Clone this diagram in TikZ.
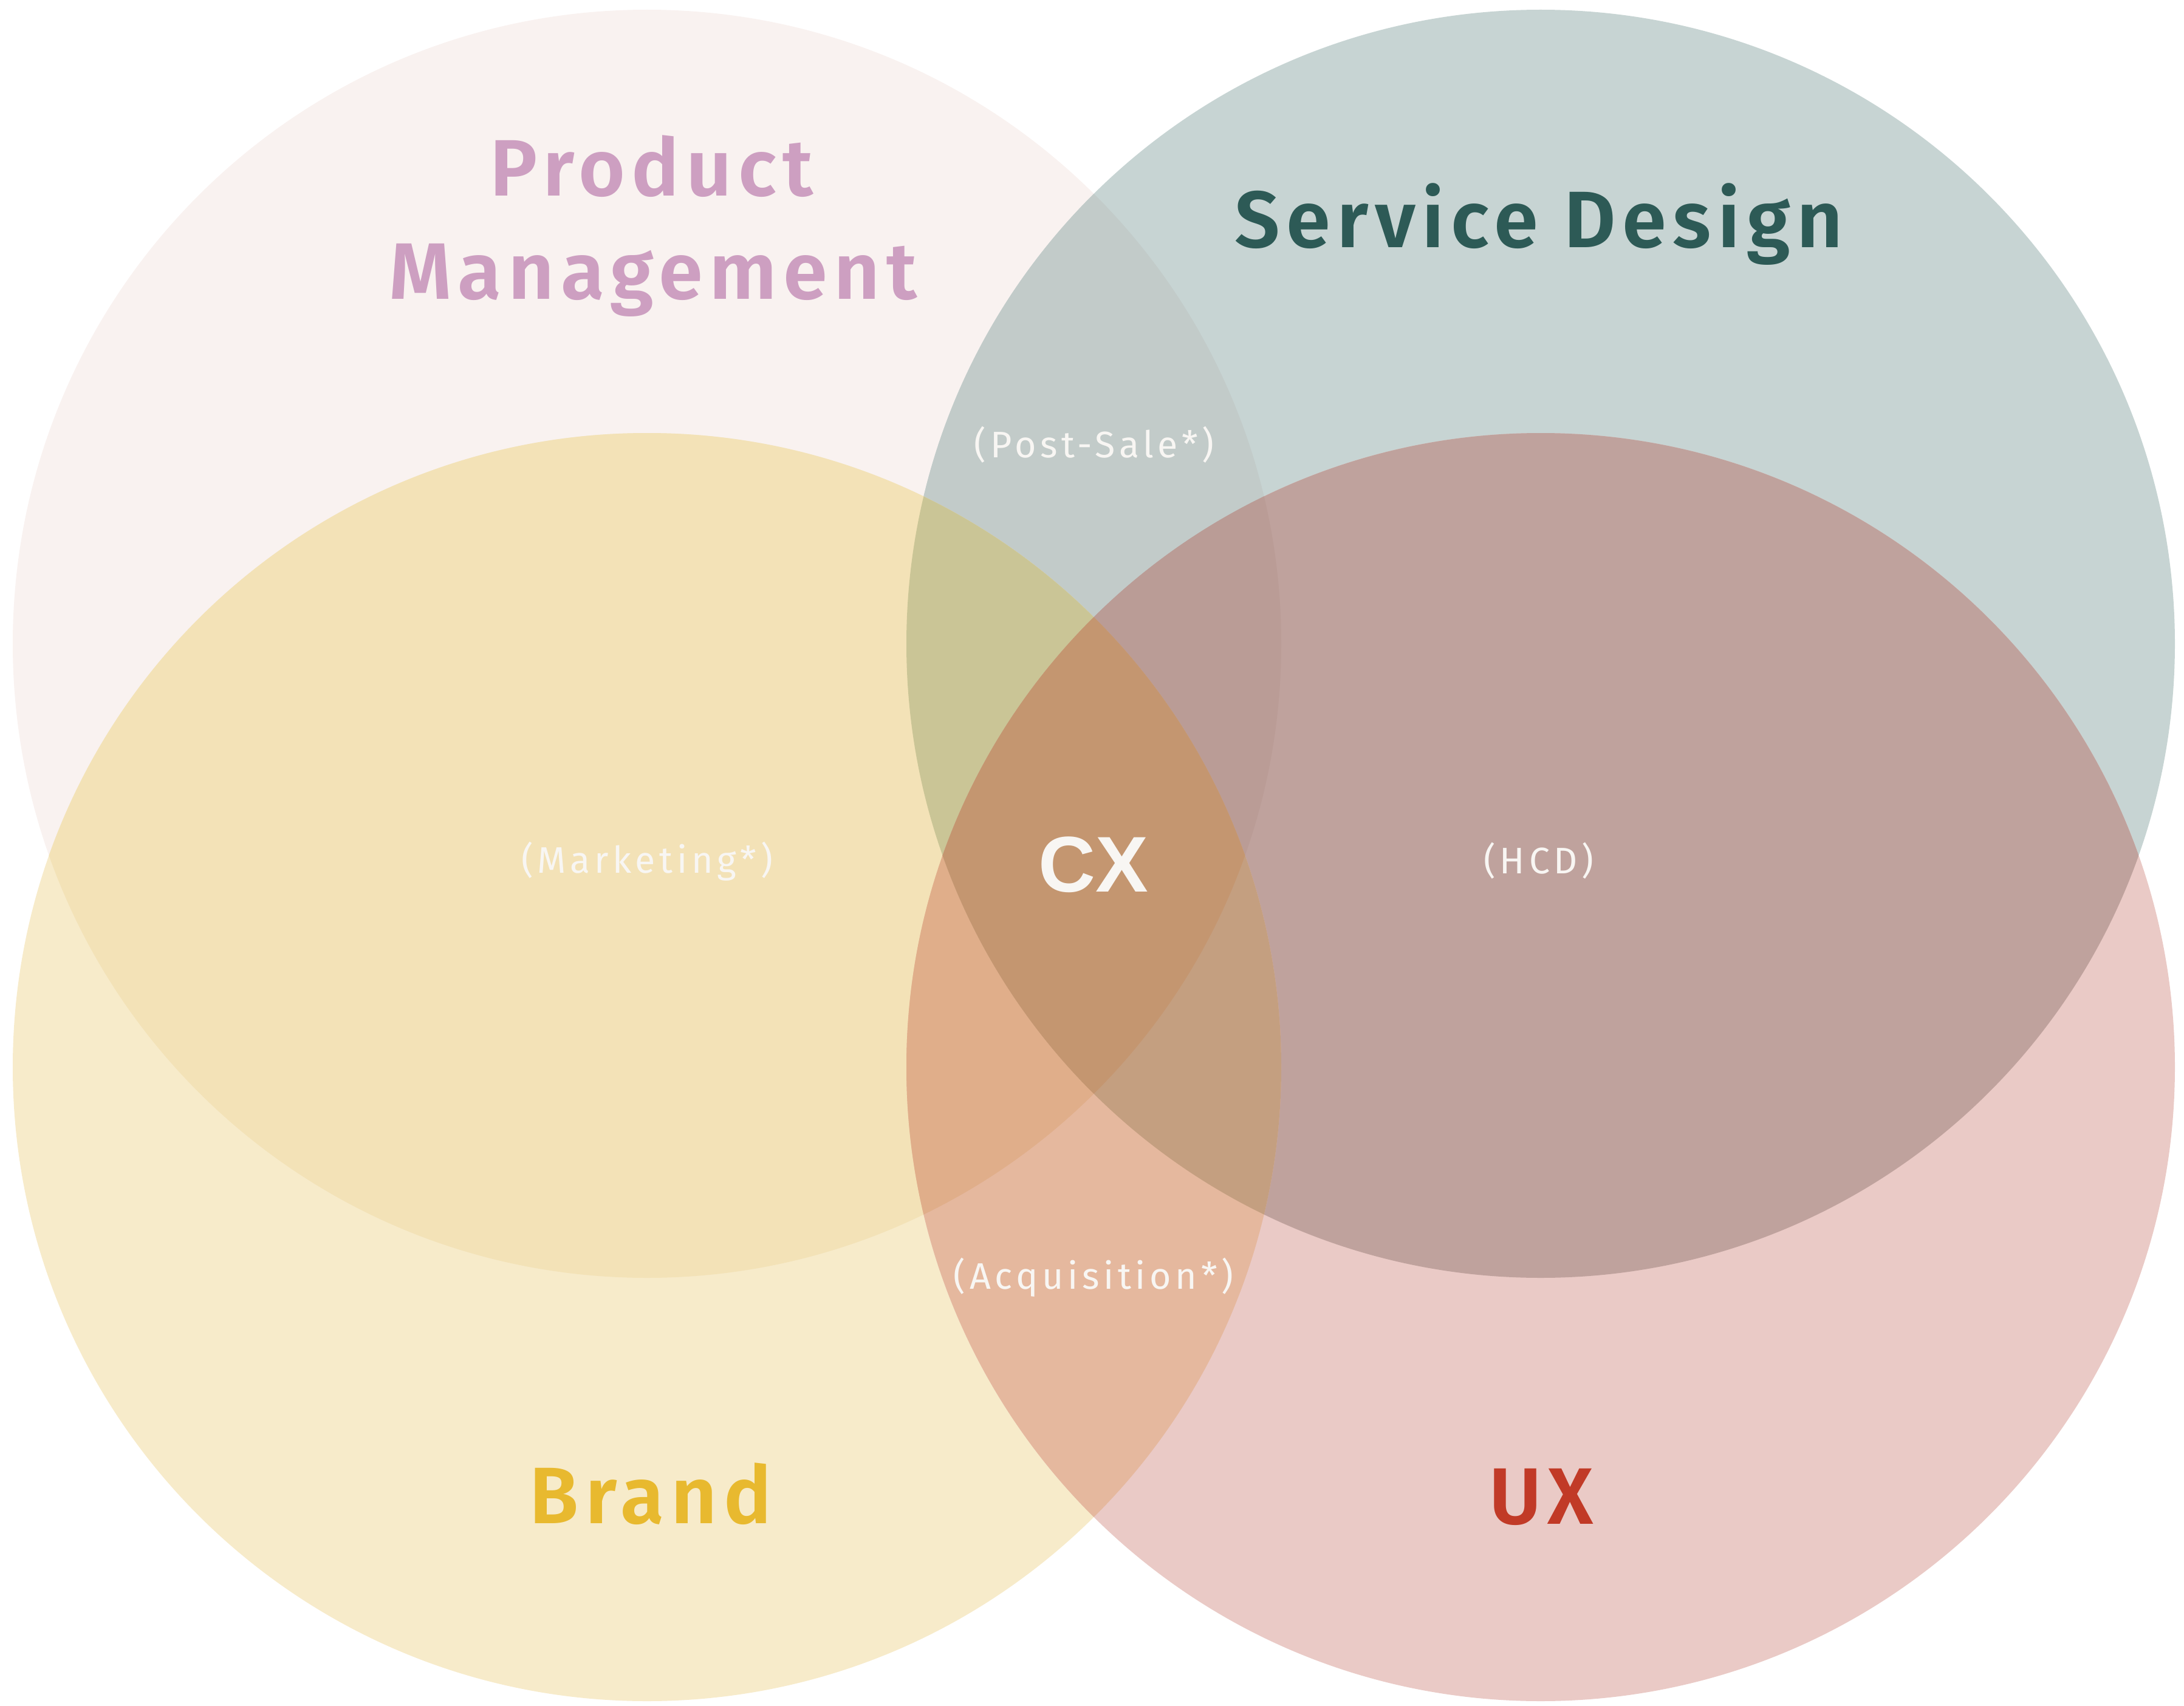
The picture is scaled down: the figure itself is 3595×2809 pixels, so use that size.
\documentclass[tikz,border=0pt]{standalone}
\usepackage{fontspec}
\setmainfont{Fira Sans}
\newfontfamily\titlefont{Fira Sans SemiBold}[LetterSpace=8]
\newfontfamily\cxfont{Liberation Sans}

% circle fills
\definecolor{pmfill}{HTML}{F9F2F0}
\definecolor{sdfill}{HTML}{C7D4D3}
\definecolor{brandfill}{HTML}{F7EBCA}
\definecolor{uxfill}{HTML}{EACAC6}
% overlaps
\definecolor{pmsd}{HTML}{C2CBC9}
\definecolor{pmbrand}{HTML}{F3E2B7}
\definecolor{sdux}{HTML}{BFA29D}
\definecolor{brandux}{HTML}{E5B89E}
\definecolor{pmsdbrand}{HTML}{CAC596}
\definecolor{pmsdux}{HTML}{BA9C96}
\definecolor{pmbrandux}{HTML}{E0AE8A}
\definecolor{sdbrandux}{HTML}{C49F80}
\definecolor{allfour}{HTML}{C49670}
% texts
\definecolor{pmtext}{HTML}{CD9FC1}
\definecolor{sdtext}{HTML}{2D5A56}
\definecolor{brandtext}{HTML}{E8B92F}
\definecolor{uxtext}{HTML}{C13A27}
\definecolor{softwhite}{HTML}{F8F6F3}

\tikzset{
  title/.style={anchor=base, inner sep=0pt, font=\fontsize{37.5}{45}\selectfont\titlefont},
  sublabel/.style={anchor=base, inner sep=0pt, text=softwhite,
    font=\fontsize{17.3}{20}\selectfont\addfontfeature{LetterSpace=11}}
}

\begin{document}
\begin{tikzpicture}[x=0.1mm,y=-0.1mm]
  \useasboundingbox (0,0) rectangle (3595,2809);
  \coordinate (pm) at (1065,1060);
  \coordinate (sd) at (2536,1060);
  \coordinate (brand) at (1065,1757);
  \coordinate (ux) at (2536,1757);

  % the four circles
  \fill[pmfill] (pm) circle [radius=1044];
  \fill[sdfill] (sd) circle [radius=1044];
  \fill[brandfill] (brand) circle [radius=1044];
  \fill[uxfill] (ux) circle [radius=1044];

  % two at a time
  \begin{scope}
    \clip (pm) circle [radius=1044];
    \fill[pmsd] (sd) circle [radius=1044];
    \fill[pmbrand] (brand) circle [radius=1044];
  \end{scope}
  \begin{scope}
    \clip (ux) circle [radius=1044];
    \fill[sdux] (sd) circle [radius=1044];
    \fill[brandux] (brand) circle [radius=1044];
  \end{scope}

  % three at a time
  \begin{scope}
    \clip (pm) circle [radius=1044];
    \clip (sd) circle [radius=1044];
    \fill[pmsdbrand] (brand) circle [radius=1044];
    \fill[pmsdux] (ux) circle [radius=1044];
  \end{scope}
  \begin{scope}
    \clip (brand) circle [radius=1044];
    \clip (ux) circle [radius=1044];
    \fill[pmbrandux] (pm) circle [radius=1044];
    \fill[sdbrandux] (sd) circle [radius=1044];
  \end{scope}

  % all four
  \begin{scope}
    \clip (pm) circle [radius=1044];
    \clip (sd) circle [radius=1044];
    \clip (brand) circle [radius=1044];
    \fill[allfour] (ux) circle [radius=1044];
  \end{scope}

  % titles
  \node[title, text=pmtext] (pmlabel) at (1073,323) {Product};
  \node[title, text=pmtext] (pmlabel2) at (1075,492) {Management};
  \node[title, text=sdtext] (sdlabel) at (2533,407) {Service Design};
  \node[title, text=brandtext] (brandlabel) at (1071,2508) {Brand};
  \node[title, text=uxtext] (uxlabel) at (2537,2509) {UX};
  \node[anchor=base, inner sep=0pt, text=softwhite,
    font=\fontsize{37}{44}\selectfont\cxfont\bfseries] (cxlabel) at (1800,1468) {CX};

  % overlap labels
  \node[sublabel] (postsale) at (1801,753) {(Post-Sale*)};
  \node[sublabel] (marketing) at (1065,1437) {(Marketing*)};
  \node[sublabel] (hcd) at (2533,1438) {(HCD)};
  \node[sublabel] (acquisition) at (1800,2122) {(Acquisition*)};
\end{tikzpicture}
\end{document}
